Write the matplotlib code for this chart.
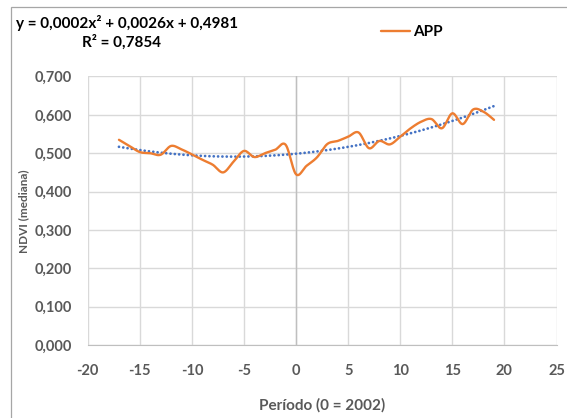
import numpy as np
import matplotlib
matplotlib.use("Agg")
import matplotlib.pyplot as plt
from matplotlib.patches import Rectangle


# =========================================================
# Data
# =========================================================

PERIODS = list(range(-17, 20))

NDVI_APP = [
    0.535, 0.519, 0.503, 0.500, 0.496, 0.519, 0.510, 0.497,
    0.483, 0.470, 0.450, 0.478, 0.506, 0.490, 0.500, 0.509,
    0.522, 0.445, 0.467, 0.489, 0.524, 0.532, 0.543, 0.554,
    0.513, 0.532, 0.523, 0.543, 0.565, 0.582, 0.589, 0.565,
    0.604, 0.576, 0.614, 0.608, 0.587,
]

EQUATION = "y = 0,0002x² + 0,0026x + 0,4981"
R2_TEXT = "R² = 0,7854"

X_TICKS = [-20, -15, -10, -5, 0, 5, 10, 15, 20, 25]
Y_TICKS = [0.0, 0.1, 0.2, 0.3, 0.4, 0.5, 0.6, 0.7]

ORANGE = "#ED7D31"
BLUE = "#4472C4"
GREY_TEXT = "#595959"
GRID = "#D9D9D9"


# =========================================================
# Helpers
# =========================================================

def smooth_line(xs, ys, steps=24):
    """Catmull-Rom curve through the points (like Excel's smoothed line)."""
    xs = np.asarray(xs, dtype=float)
    ys = np.asarray(ys, dtype=float)
    px = np.concatenate([[xs[0]], xs, [xs[-1]]])
    py = np.concatenate([[ys[0]], ys, [ys[-1]]])
    out_x, out_y = [], []
    t = np.linspace(0, 1, steps, endpoint=False)
    for i in range(1, len(px) - 2):
        for p, out in ((px, out_x), (py, out_y)):
            p0, p1, p2, p3 = p[i - 1], p[i], p[i + 1], p[i + 2]
            out.extend(0.5 * ((2 * p1) + (-p0 + p2) * t
                              + (2 * p0 - 5 * p1 + 4 * p2 - p3) * t ** 2
                              + (-p0 + 3 * p1 - 3 * p2 + p3) * t ** 3))
    out_x.append(xs[-1])
    out_y.append(ys[-1])
    return np.array(out_x), np.array(out_y)


def fmt_comma(v, decimals=3):
    return f"{v:.{decimals}f}".replace(".", ",")


# =========================================================
# Plot
# =========================================================

def main():
    plt.rcParams["font.family"] = ["Lato", "DejaVu Sans"]
    plt.rcParams["axes.unicode_minus"] = False

    fig = plt.figure(figsize=(5.67, 4.18), dpi=100)
    ax = fig.add_axes([0.1547, 0.1746, 0.8268, 0.6424])

    # chart area frame
    fig.patches.append(Rectangle((11 / 567, -0.1), 1.2, 1 - 7 / 418 + 0.1,
                                 transform=fig.transFigure, fill=False,
                                 edgecolor="#A6A6A6", linewidth=0.9))

    sx, sy = smooth_line(PERIODS, NDVI_APP)
    ax.plot(sx, sy, color=ORANGE, linewidth=1.7, label="APP",
            solid_capstyle="round", zorder=3)

    coef = np.polyfit(PERIODS, NDVI_APP, 2)
    tx = np.linspace(PERIODS[0], PERIODS[-1], 200)
    ax.plot(tx, np.polyval(coef, tx), color=BLUE, linewidth=2.0,
            linestyle=(0, (0.01, 1.55)), dash_capstyle="round", zorder=2)

    ax.set_xlim(-20, 25)
    ax.set_ylim(0, 0.7)
    ax.set_xticks(X_TICKS)
    ax.set_yticks(Y_TICKS)
    ax.set_yticklabels([fmt_comma(v) for v in Y_TICKS])
    ax.tick_params(length=0, labelsize=10.5, labelcolor=GREY_TEXT)
    ax.tick_params(axis="x", pad=14)
    ax.tick_params(axis="y", pad=11.5)
    for lab in ax.get_xticklabels() + ax.get_yticklabels():
        lab.set_fontweight("bold")

    ax.grid(True, color=GRID, linewidth=1.0)
    ax.set_axisbelow(True)
    for side in ("top", "right", "left"):
        ax.spines[side].set_visible(False)
    ax.spines["bottom"].set_color("#BFBFBF")
    ax.axvline(0, color="#BFBFBF", linewidth=1.0, zorder=1)

    ax.set_xlabel("Período (0 = 2002)", fontsize=11, fontweight="bold",
                  color=GREY_TEXT, labelpad=14)
    ax.set_ylabel("NDVI (mediana)", fontsize=8.5, fontweight="bold",
                  color=GREY_TEXT, labelpad=4)

    fig.text(16 / 567, 1 - 23 / 418, EQUATION, fontsize=11,
             fontweight="bold", va="center", ha="left")
    fig.text(82 / 567, 1 - 42 / 418, R2_TEXT, fontsize=11,
             fontweight="bold", va="center", ha="left")

    fig.legend(loc="center left", bbox_to_anchor=(367 / 567, 1 - 32 / 418),
               frameon=False, handlelength=1.9, handletextpad=0.2,
               prop={"weight": "bold", "size": 11})

    fig.savefig("out.png", dpi=100)
    plt.close(fig)


if __name__ == "__main__":
    main()
